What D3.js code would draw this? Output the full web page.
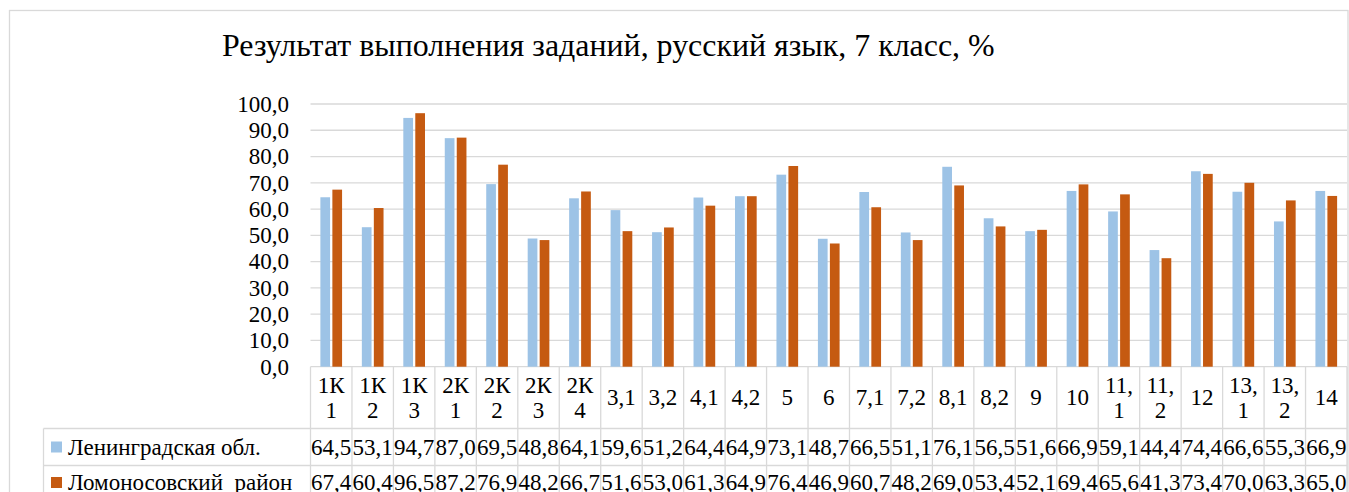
<!DOCTYPE html>
<html><head><meta charset="utf-8">
<script src="https://cdn.jsdelivr.net/npm/d3@7"></script>
<style>body{margin:0;background:#fff;}svg{display:block;}</style>
</head><body>
<svg id="c" width="1349" height="492"></svg>
<script>
const title = "Результат выполнения заданий, русский язык, 7 класс, %";
const categories = ["1К1","1К2","1К3","2К1","2К2","2К3","2К4","3,1","3,2","4,1","4,2","5","6","7,1","7,2","8,1","8,2","9","10","11,1","11,2","12","13,1","13,2","14"];
const tickLines = [["1К","1"],["1К","2"],["1К","3"],["2К","1"],["2К","2"],["2К","3"],["2К","4"],["3,1"],["3,2"],["4,1"],["4,2"],["5"],["6"],["7,1"],["7,2"],["8,1"],["8,2"],["9"],["10"],["11,","1"],["11,","2"],["12"],["13,","1"],["13,","2"],["14"]];
const seriesNames = ["Ленинградская обл.","Ломоносовский  район"];
const lenObl = [64.5,53.1,94.7,87.0,69.5,48.8,64.1,59.6,51.2,64.4,64.9,73.1,48.7,66.5,51.1,76.1,56.5,51.6,66.9,59.1,44.4,74.4,66.6,55.3,66.9];
const lomRayon = [67.4,60.4,96.5,87.2,76.9,48.2,66.7,51.6,53.0,61.3,64.9,76.4,46.9,60.7,48.2,69.0,53.4,52.1,69.4,65.6,41.3,73.4,70.0,63.3,65.0];
const yTicks = [0,10,20,30,40,50,60,70,80,90,100];
const colors = ["#9DC3E6","#C55A11"];

// pick the first serif family that is really installed
const cv = document.createElement("canvas").getContext("2d");
const probe = "Результат выполнения 100,0 Wmi";
const cands = ["Liberation Serif","Tinos","Times New Roman","FreeSerif","Noto Serif","DejaVu Serif"];
cv.font = "23px monospace"; const mono = cv.measureText(probe).width;
let FAM = "serif";
for (const f of cands) {
  cv.font = `23px "${f}", monospace`;
  if (Math.abs(cv.measureText(probe).width - mono) > 1) { FAM = `"${f}"`; break; }
}
const FF = FAM + ", serif";

const svg = d3.select("#c");
const grid = "#d9d9d9";
const fmt = v => d3.format(".1f")(v).replace(".", ",");
const txt = (sel) => sel.attr("font-family", FF).style("font-family", FF).attr("fill", "#000");

svg.append("rect").attr("x",9.5).attr("y",10.5).attr("width",1338.5).attr("height",520)
  .attr("fill","none").attr("stroke",grid).attr("stroke-width",1.3);

cv.font = `29px ${FF}`;
const tw = cv.measureText(title).width;
const tSize = tw > 0 ? Math.min(34, 29*773/tw) : 29;
svg.append("text").attr("x",222).attr("y",56).attr("font-size",tSize.toFixed(2)).call(txt).text(title);

const x0 = 310.5, x1 = 1347;
const x = d3.scaleBand().domain(categories).range([x0,x1]).paddingInner(0).paddingOuter(0);
const y = d3.scaleLinear().domain([0,100]).range([366.7,104]);
const bw = x.bandwidth();
const barW = bw*0.234, gap = bw*0.055;
const startOff = (bw - (2*barW+gap))/2;

svg.append("g").selectAll("line").data(yTicks).join("line")
  .attr("x1",x0).attr("x2",x1).attr("y1",d=>y(d)).attr("y2",d=>y(d))
  .attr("stroke",grid).attr("stroke-width",1.3);

svg.append("g").selectAll("text").data(yTicks).join("text")
  .attr("x",289).attr("y",d=>y(d)).attr("dy","0.34em").attr("text-anchor","end")
  .attr("font-size",23).call(txt).text(d=>fmt(d));

const series = [lenObl, lomRayon];
series.forEach((vals,si)=>{
  svg.append("g").selectAll("rect").data(vals).join("rect")
    .attr("x",(d,i)=>x(categories[i])+startOff+si*(barW+gap))
    .attr("width",barW)
    .attr("y",d=>y(d)).attr("height",d=>y(0)-y(d))
    .attr("fill",colors[si]);
});

const tTop = 366.7, r1 = 428.5, r2 = 465.5, r3 = 502.5, legX = 43.5;
const tg = svg.append("g").attr("stroke",grid).attr("stroke-width",1.3);
categories.forEach(c=>{
  tg.append("line").attr("x1",x(c)).attr("x2",x(c)).attr("y1",tTop).attr("y2",r3);
});
tg.append("line").attr("x1",x1).attr("x2",x1).attr("y1",tTop).attr("y2",r3);
tg.append("line").attr("x1",legX).attr("x2",legX).attr("y1",r1).attr("y2",r3);
[r1,r2,r3].forEach(r=>tg.append("line").attr("x1",legX).attr("x2",x1).attr("y1",r).attr("y2",r));

categories.forEach((c,i)=>{
  const lines = tickLines[i];
  const cx = x(c)+bw/2;
  const midY = (tTop+r1)/2;
  const lh = 25;
  lines.forEach((t,li)=>{
    svg.append("text").attr("x",cx).attr("y",midY + (li-(lines.length-1)/2)*lh)
      .attr("dy","0.34em").attr("text-anchor","middle")
      .attr("font-size",23).call(txt).text(t);
  });
});

const rowMid = [(r1+r2)/2, (r2+r3)/2 - 1.5];
series.forEach((vals,si)=>{
  svg.append("rect").attr("x",51).attr("y",rowMid[si]-5.5).attr("width",11).attr("height",11).attr("fill",colors[si]);
  svg.append("text").attr("x",68).attr("y",rowMid[si]).attr("dy","0.34em")
    .attr("font-size",23).call(txt)
    .style("white-space","pre").text(seriesNames[si]);
  svg.append("g").selectAll("text").data(vals).join("text")
    .attr("x",(d,i)=>x(categories[i])+bw/2).attr("y",rowMid[si]).attr("dy","0.34em")
    .attr("text-anchor","middle").attr("font-size",23).call(txt)
    .text(d=>fmt(d));
});
</script>
</body></html>
